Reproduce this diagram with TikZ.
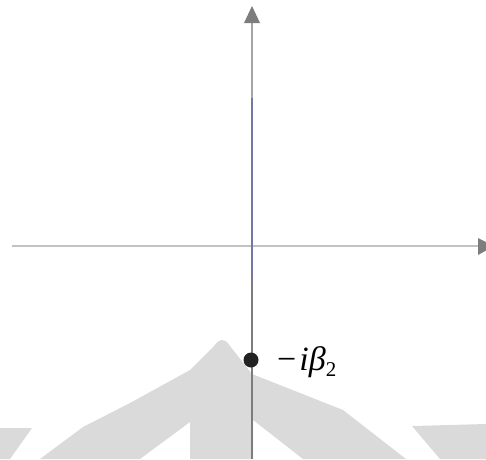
\documentclass[tikz,border=0pt]{standalone}
\usepackage{fontspec}
\setmainfont{Liberation Serif}
\newfontfamily\labfont{Liberation Serif}
\definecolor{wm}{RGB}{218,218,218}
\definecolor{axlight}{RGB}{195,195,195}
\definecolor{axgray}{RGB}{165,165,165}
\definecolor{axblue}{RGB}{118,118,165}
\definecolor{axdark}{RGB}{125,125,125}
\definecolor{arrowgray}{RGB}{125,125,125}
\definecolor{dotblack}{RGB}{34,34,34}
\tikzset{
  wmark/.style={fill=wm, draw=none},
  axisline/.style={line width=1.4pt},
  tip/.style={fill=arrowgray, draw=none},
  pole/.style={circle, fill=dotblack, inner sep=0pt, minimum size=15pt},
  polelabel/.style={anchor=base west, inner sep=0pt}
}
\begin{document}
\begin{tikzpicture}[x=1pt,y=-1pt]
\useasboundingbox (0,0) rectangle (486,459);
% watermark
\fill[wmark] (40,459) -- (83,427) -- (130,403) -- (190,370) -- (214,346)
  .. controls (220,338) and (225,338) .. (230,346) -- (252,374)
  -- (343,410) -- (406,459) -- (303,459) -- (253,420) -- (253,459) -- (190,459)
  -- (190,422) -- (140,459) -- cycle;
\fill[wmark] (0,428) -- (32,428) -- (10,459) -- (0,459) -- cycle;
\fill[wmark] (412,426) -- (486,424) -- (486,459) -- (440,459) -- cycle;
% axes
\coordinate (xl) at (12,246);
\coordinate (xr) at (478,246);
\coordinate (yt) at (252,22);
\coordinate (y1) at (252,98);
\coordinate (y2) at (252,282);
\coordinate (yb) at (252,459);
\draw[axisline, axlight] (xl) -- (xr);
\draw[axisline, axgray] (yt) -- (y1);
\draw[axisline, axblue] (y1) -- (y2);
\draw[axisline, axdark] (y2) -- (yb);
\fill[tip] (244,23) -- (252,6) -- (260,23) -- cycle;
\fill[tip] (478,238) -- (494,246) -- (478,255) -- cycle;
% pole
\node[pole] (p) at (251,360) {};
\node[polelabel] (lab) at (277,370) {\labfont\fontsize{34}{38}\selectfont −\kern3pt\itshape iβ\raisebox{-0.2em}{\upshape\fontsize{21}{24}\selectfont 2}};
\end{tikzpicture}
\end{document}
